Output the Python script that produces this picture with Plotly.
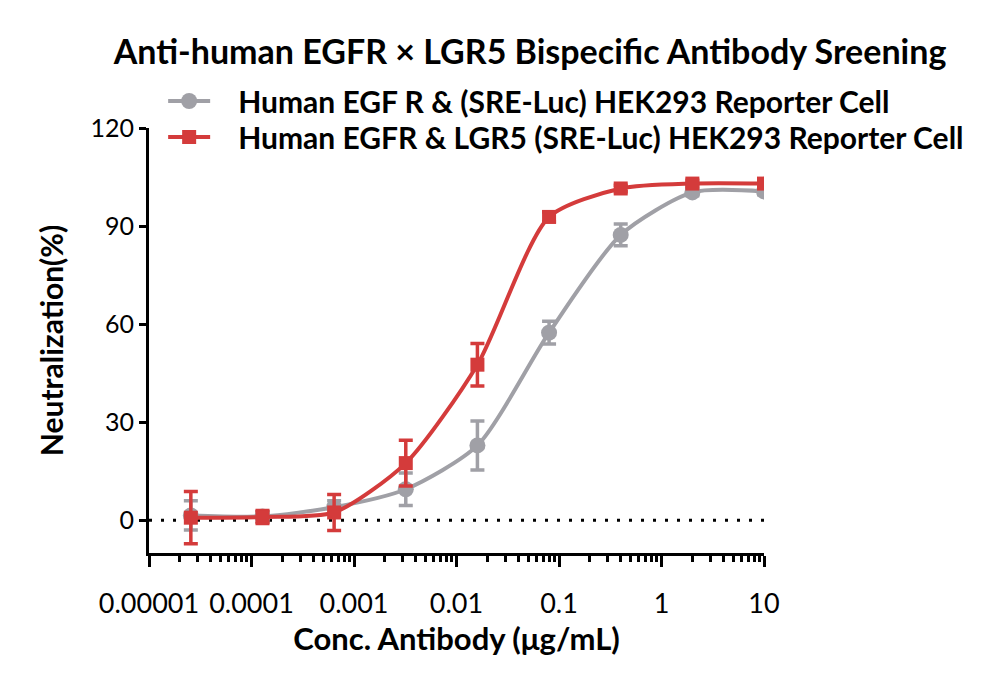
import plotly.graph_objects as go

conc = [0.0000256, 0.000128, 0.00064, 0.0032, 0.016, 0.08, 0.4, 2, 10]
egfr_mean = [1.5, 1.2, 4.0, 9.5, 22.9, 57.4, 87.3, 100.3, 100.6]
egfr_err = [4.5, 1.5, 2.0, 5.0, 7.5, 3.5, 3.3, 1.0, 1.0]
lgr5_mean = [0.8, 1.0, 2.4, 17.5, 47.6, 92.8, 101.5, 103.0, 103.0]
lgr5_err = [8.0, 2.0, 5.5, 7.0, 6.5, 1.5, 1.0, 1.0, 1.0]

x_tickvals = [0.00001, 0.0001, 0.001, 0.01, 0.1, 1, 10]
x_ticktext = ["0.00001", "0.0001", "0.001", "0.01", "0.1", "1", "10"]
y_tickvals = [0, 30, 60, 90, 120]

gray = "#a0a0a6"
red = "#d43b3b"
FONT = "Lato"
PAD = "&nbsp;" * 3

fig = go.Figure()
fig.add_trace(go.Scatter(
    x=[x_tickvals[0], x_tickvals[-1]], y=[0, 0], mode="lines",
    line=dict(color="black", width=3, dash="3px,9px"), showlegend=False, hoverinfo="skip"))
fig.add_trace(go.Scatter(
    x=conc, y=egfr_mean, mode="lines+markers",
    name=PAD + "<b>Human EGF R & (SRE-Luc) HEK293 Reporter Cell</b>",
    legend="legend",
    line=dict(color=gray, width=4, shape="spline", smoothing=0.7),
    marker=dict(symbol="circle", size=16, color=gray),
    error_y=dict(type="data", array=egfr_err, color=gray, thickness=3.5, width=7)))
fig.add_trace(go.Scatter(
    x=conc, y=lgr5_mean, mode="lines+markers",
    name=PAD + "<b>Human EGFR & LGR5 (SRE-Luc) HEK293 Reporter Cell</b>",
    legend="legend2",
    line=dict(color=red, width=4, shape="spline", smoothing=0.7),
    marker=dict(symbol="square", size=14, color=red),
    error_y=dict(type="data", array=lgr5_err, color=red, thickness=3.5, width=7)))

legend_common = dict(xanchor="left", yanchor="middle",
                     font=dict(size=30, family=FONT, color="black"),
                     bgcolor="rgba(0,0,0,0)", itemwidth=42)

fig.update_layout(
    width=1000, height=684,
    margin=dict(l=149, r=236, t=128, b=131),
    paper_bgcolor="white", plot_bgcolor="white",
    font=dict(family=FONT, color="black"),
    title=dict(text="<b>Anti-human EGFR × LGR5 Bispecific Antibody Sreening</b>",
               x=0.53, xanchor="center", y=0.924, yanchor="middle",
               font=dict(size=34, family=FONT, color="black")),
    legend=dict(x=0.023, y=1 + (128 - 101) / 425, **legend_common),
    legend2=dict(x=0.023, y=1 + (128 - 137) / 425, **legend_common),
    xaxis=dict(type="log", range=[-5, 1], tickvals=x_tickvals, ticktext=x_ticktext,
               showgrid=False, zeroline=False, showline=True, linecolor="black", linewidth=3,
               ticks="outside", ticklen=11, tickwidth=3, tickcolor="black",
               ticklabelstandoff=14,
               tickfont=dict(size=27, family=FONT, color="black"),
               minor=dict(ticks="outside", ticklen=6, tickwidth=2.5, tickcolor="black", dtick="D1", showgrid=False),
               title=dict(text="<b>Conc. Antibody (μg/mL)</b>", font=dict(size=31, family=FONT, color="black"), standoff=6)),
    yaxis=dict(range=[-10, 120], tickvals=y_tickvals,
               showgrid=False, zeroline=False, showline=True, linecolor="black", linewidth=3,
               ticks="outside", ticklen=7, tickwidth=3, tickcolor="black",
               tickfont=dict(size=25, family=FONT, color="black"),
               title=dict(text="<b>Neutralization(%)</b>", font=dict(size=30, family=FONT, color="black"), standoff=18)),
)

fig.write_html("out.html")
